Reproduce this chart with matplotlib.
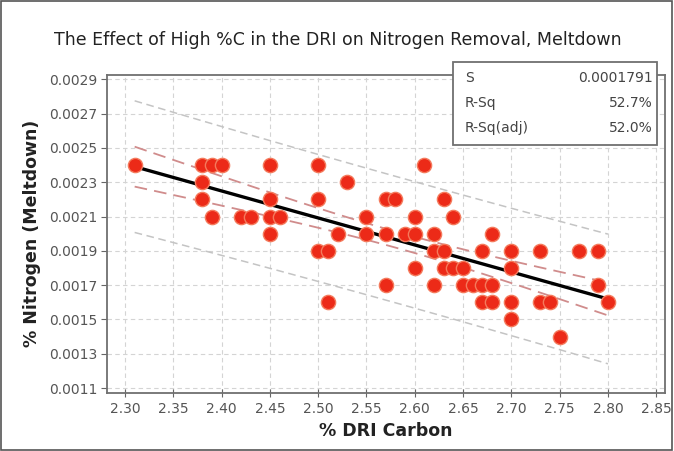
import matplotlib.pyplot as plt
import numpy as np
from matplotlib.patches import Rectangle

# данные: % углерода в DRI и % азота (расплавление)
dri_carbon = [2.31, 2.38, 2.39, 2.40, 2.45, 2.38, 2.38, 2.45, 2.39, 2.42, 2.43, 2.45, 2.46, 2.45,
              2.50, 2.53, 2.50, 2.57, 2.58, 2.61, 2.63,
              2.55, 2.60, 2.64, 2.52, 2.55, 2.57, 2.59, 2.60, 2.62, 2.50, 2.51, 2.62, 2.63, 2.67,
              2.60, 2.63, 2.64, 2.65, 2.57, 2.62, 2.65, 2.66, 2.67, 2.68, 2.51, 2.67,
              2.68, 2.70, 2.73, 2.77, 2.79, 2.70, 2.79, 2.68, 2.70, 2.73, 2.74, 2.80, 2.70, 2.75]
nitrogen = [0.0024, 0.0024, 0.0024, 0.0024, 0.0024, 0.0023, 0.0022, 0.0022, 0.0021, 0.0021, 0.0021, 0.0021, 0.0021, 0.0020,
            0.0024, 0.0023, 0.0022, 0.0022, 0.0022, 0.0024, 0.0022,
            0.0021, 0.0021, 0.0021, 0.0020, 0.0020, 0.0020, 0.0020, 0.0020, 0.0020, 0.0019, 0.0019, 0.0019, 0.0019, 0.0019,
            0.0018, 0.0018, 0.0018, 0.0018, 0.0017, 0.0017, 0.0017, 0.0017, 0.0017, 0.0017, 0.0016, 0.0016,
            0.0020, 0.0019, 0.0019, 0.0019, 0.0019, 0.0018, 0.0017, 0.0016, 0.0016, 0.0016, 0.0016, 0.0016, 0.0015, 0.0014]

x_ticks = [2.30, 2.35, 2.40, 2.45, 2.50, 2.55, 2.60, 2.65, 2.70, 2.75, 2.80, 2.85]
y_ticks = [0.0011, 0.0013, 0.0015, 0.0017, 0.0019, 0.0021, 0.0023, 0.0025, 0.0027, 0.0029]

stat_names = ["S", "R-Sq", "R-Sq(adj)"]
stat_values = ["0.0001791", "52.7%", "52.0%"]

title = "The Effect of High %C in the DRI on Nitrogen Removal, Meltdown"

x = np.array(dri_carbon, dtype='float64')
y = np.array(nitrogen, dtype='float64')

# линейная регрессия и интервалы
n = len(x)
b1, b0 = np.polyfit(x, y, 1)
resid = y - (b0 + b1 * x)
s = np.sqrt(np.sum(resid ** 2) / (n - 2))
t_val = 2.0
xm = x.mean()
sxx = np.sum((x - xm) ** 2)
x_fit = np.linspace(x.min(), x.max(), 100)
y_fit = b0 + b1 * x_fit
se_ci = s * np.sqrt(1 / n + (x_fit - xm) ** 2 / sxx)
se_pi = s * np.sqrt(1 + 1 / n + (x_fit - xm) ** 2 / sxx)

fig = plt.figure(figsize=(6.74, 4.51), dpi=100)
ax = fig.add_axes([0.1588, 0.1293, 0.8278, 0.7044])

ax.grid(True, color='#d4d4d4', linestyle=(0, (4, 3)), lw=0.8)
ax.set_axisbelow(True)

ax.plot(x_fit, y_fit + t_val * se_pi, color='#c4c4c4', linestyle=(0, (5, 3)), lw=1.1)
ax.plot(x_fit, y_fit - t_val * se_pi, color='#c4c4c4', linestyle=(0, (5, 3)), lw=1.1)
ax.plot(x_fit, y_fit + t_val * se_ci, color='#d08c8c', linestyle=(0, (7, 4)), lw=1.3)
ax.plot(x_fit, y_fit - t_val * se_ci, color='#d08c8c', linestyle=(0, (7, 4)), lw=1.3)
ax.plot(x_fit, y_fit, color='black', lw=2.4, zorder=3)

ax.scatter(x, y, s=105, color='#ec2a18', edgecolors='#f47a5c', linewidths=1.0, zorder=4)

ax.set_xlim(2.2814, 2.859)
ax.set_ylim(0.001073, 0.002925)
ax.set_xticks(x_ticks)
ax.set_xticklabels([f"{v:.2f}" for v in x_ticks])
ax.set_yticks(y_ticks)
ax.set_yticklabels([f"{v:.4f}" for v in y_ticks])
ax.tick_params(axis='x', direction='inout', length=6, colors='#666666', labelcolor='#555555', labelsize=10, pad=4)
ax.tick_params(axis='y', direction='out', length=4, colors='#666666', labelcolor='#555555', labelsize=10, pad=3)
for sp in ax.spines.values():
    sp.set_color('#707070')
    sp.set_linewidth(1.3)

ax.set_xlabel("% DRI Carbon", fontsize=12.5, fontweight='bold', color='#222222', labelpad=4)
ax.set_ylabel("% Nitrogen (Meltdown)", fontsize=12.5, fontweight='bold', color='#222222', labelpad=6)

fig.text(0.5015, 0.912, title, ha='center', va='center', fontsize=12.5, color='#222222')

# таблица статистики
bx0, by0, bw, bh = 452.7 / 674, 1 - 145 / 451, 204 / 674, 83.3 / 451
fig.patches.append(Rectangle((bx0, by0), bw, bh, transform=fig.transFigure,
                             facecolor='white', edgecolor='#707070', lw=1.3, zorder=5))
row_y = [78.3, 103.3, 128.3]
for name, val, ry in zip(stat_names, stat_values, row_y):
    fig.text(465 / 674, 1 - ry / 451, name, ha='left', va='center', fontsize=10, color='#444444', zorder=6)
    fig.text(653 / 674, 1 - ry / 451, val, ha='right', va='center', fontsize=10, color='#444444', zorder=6)

# рамка вокруг рисунка
fig.patches.append(Rectangle((0.002, 0.003), 0.995, 0.994, transform=fig.transFigure,
                             facecolor='none', edgecolor='#555555', lw=1.2))

fig.savefig("out.png", dpi=100)
